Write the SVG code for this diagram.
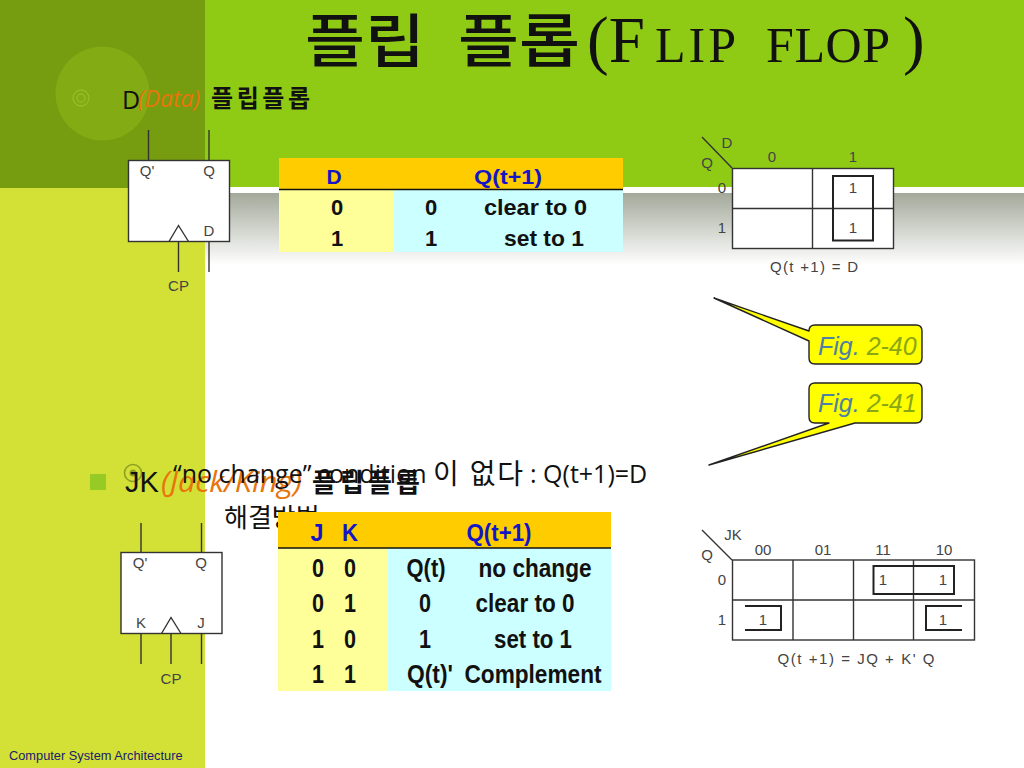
<svg xmlns="http://www.w3.org/2000/svg" width="1024" height="768" viewBox="0 0 1024 768">
<style>
.sans{font-family:"Liberation Sans","Noto Sans CJK KR",sans-serif}
.body{font-family:"Open Sans","Noto Sans CJK KR",sans-serif;font-size:25px;fill:#111}
.dia{font-family:"Liberation Sans",sans-serif;font-size:15px;fill:#444;text-anchor:middle}
.hd{font-family:"Liberation Sans",sans-serif;font-size:21px;font-weight:bold;fill:#1414c8;text-anchor:middle}
.cell{font-family:"Liberation Sans",sans-serif;font-size:22px;font-weight:bold;fill:#111;text-anchor:middle}
.cellj{font-family:"Liberation Sans",sans-serif;font-size:25px;font-weight:bold;fill:#111;text-anchor:middle}
.ln{stroke:#333;stroke-width:1.4;fill:none}
.box{fill:#fff;stroke:#333;stroke-width:1.4}
.grp{stroke:#222;stroke-width:2;fill:none}
.call{fill:#ffff00;stroke:#222;stroke-width:1.4;stroke-linejoin:round}
.fig{font-family:"Liberation Sans",sans-serif;font-size:25px;font-style:italic}
</style>
<defs>
<linearGradient id="fade" x1="0" y1="0" x2="0" y2="1"><stop offset="0" stop-color="#a3a99a"/><stop offset="1" stop-color="#fff"/></linearGradient>
</defs>
<g id="background">
<rect width="1024" height="768" fill="#fff"/>
<rect x="205" y="0" width="819" height="187" fill="#8fcb14"/>
<rect x="205" y="193" width="819" height="72" fill="url(#fade)"/>
<rect x="0" y="188" width="205" height="580" fill="#d3e035"/>
<rect x="0" y="0" width="205" height="188" fill="#769c10"/>
<circle cx="102.500" cy="93.500" r="47" fill="#82ab14"/>
</g>
<g id="title"><text y="62" font-family="'Liberation Serif','Noto Sans CJK KR',serif" font-size="65" fill="#111"><tspan x="305" font-family="'Noto Sans CJK KR',sans-serif" font-size="58" font-weight="500" textLength="120" lengthAdjust="spacingAndGlyphs">플립</tspan><tspan x="458" font-family="'Noto Sans CJK KR',sans-serif" font-size="58" font-weight="500" textLength="122" lengthAdjust="spacingAndGlyphs">플롭</tspan><tspan x="587">(F</tspan><tspan x="655" font-size="50" textLength="81" lengthAdjust="spacing">LIP</tspan><tspan x="766" font-size="50" textLength="124" lengthAdjust="spacing">FLOP</tspan><tspan x="903">)</tspan></text></g>
<g id="bullets">
<g fill="none" stroke="#96bd2a" stroke-width="1.3"><circle cx="81" cy="98" r="8"/><circle cx="81" cy="98" r="4"/></g>
<circle cx="133" cy="473" r="8.500" fill="none" stroke="#8e9f22" stroke-width="1.6"/><circle cx="133" cy="473" r="3.500" fill="#8e9f22"/>
<rect x="90" y="474" width="16" height="16" fill="#97ca24"/>
</g>
<g id="text-lines">
<text x="122" y="109" class="body">D</text>
<text x="138" y="107" font-family="'Open Sans',sans-serif" font-size="23" font-style="italic" fill="#e8740c">(Data)</text>
<text x="211" y="107" font-family="'Noto Sans CJK KR',sans-serif" font-size="24" font-weight="bold" fill="#111" textLength="99">플립플롭</text>
<text x="125" y="492" font-family="'Liberation Sans',sans-serif" font-size="29" fill="#111">JK</text>
<text x="161" y="492" font-family="'Open Sans',sans-serif" font-size="29" font-style="italic" fill="#e8740c" textLength="141" lengthAdjust="spacingAndGlyphs">(Jack/King)</text>
<text x="312" y="492" font-family="'Noto Sans CJK KR',sans-serif" font-size="26" font-weight="bold" fill="#111" textLength="108">플립플롭</text>
<text x="173" y="483" class="body">“no change”</text>
<text x="317" y="483" class="body">condition</text>
<text x="433" y="484" class="body" style="font-size:28px" textLength="90">이 없다</text>
<text x="530" y="483" class="body">: Q(t+1)=D</text>
<text x="224" y="527" class="body" style="font-size:26px">해결방법</text>
</g>
<g id="ff-d">
<rect class="box" x="128.500" y="160.500" width="101" height="81"/>
<path class="ln" d="M148.500 130V160M209 130V160M178.500 242V272M209 242V272M169 241.500L178.500 225.500L188.500 241.500"/>
<text class="dia" x="147" y="176">Q'</text><text class="dia" x="209" y="176">Q</text><text class="dia" x="209" y="236">D</text><text class="dia" x="178.500" y="291">CP</text>
</g>
<g id="ff-jk">
<rect class="box" x="121" y="552.500" width="101" height="81"/>
<path class="ln" d="M141 523V552M201.500 523V552M141 634V664M171 634V664M201.500 634V664M161.500 633.500L171 617.500L181 633.500"/>
<text class="dia" x="140" y="568">Q'</text><text class="dia" x="201" y="568">Q</text><text class="dia" x="141" y="628">K</text><text class="dia" x="201" y="628">J</text><text class="dia" x="171" y="684">CP</text>
</g>
<g id="table-d">
<rect x="279" y="158" width="344" height="31" fill="#ffcc00"/>
<rect x="279" y="189" width="115" height="63" fill="#ffff99"/>
<rect x="394" y="189" width="229" height="63" fill="#ccffff"/>
<path d="M279 189.500H623" stroke="#111" stroke-width="1.500"/>
<text class="hd" x="334" y="184">D</text><text class="hd" x="508" y="184" textLength="68" lengthAdjust="spacingAndGlyphs">Q(t+1)</text>
<text class="cell" x="337" y="215">0</text><text class="cell" x="431" y="215">0</text><text class="cell" x="535.500" y="215" textLength="103" lengthAdjust="spacingAndGlyphs">clear to 0</text>
<text class="cell" x="337" y="246">1</text><text class="cell" x="431" y="246">1</text><text class="cell" x="544" y="246" textLength="80" lengthAdjust="spacingAndGlyphs">set to 1</text>
</g>
<g id="table-jk">
<rect x="278" y="512" width="333" height="36" fill="#ffcc00"/>
<rect x="278" y="548" width="110" height="143" fill="#ffff99"/>
<rect x="388" y="548" width="223" height="143" fill="#ccffff"/>
<path d="M278 548H611" stroke="#111" stroke-width="1.500"/>
<text class="hd" x="317" y="541" style="font-size:24px" textLength="13" lengthAdjust="spacingAndGlyphs">J</text><text class="hd" x="350" y="541" style="font-size:24px" textLength="16" lengthAdjust="spacingAndGlyphs">K</text><text class="hd" x="499" y="541" style="font-size:24px" textLength="65" lengthAdjust="spacingAndGlyphs">Q(t+1)</text>
<text class="cellj" x="318" y="577" textLength="12" lengthAdjust="spacingAndGlyphs">0</text><text class="cellj" x="350" y="577" textLength="12" lengthAdjust="spacingAndGlyphs">0</text><text class="cellj" x="426" y="577" textLength="39" lengthAdjust="spacingAndGlyphs">Q(t)</text><text class="cellj" x="535" y="577" textLength="113" lengthAdjust="spacingAndGlyphs">no change</text>
<text class="cellj" x="318" y="612" textLength="12" lengthAdjust="spacingAndGlyphs">0</text><text class="cellj" x="350" y="612" textLength="12" lengthAdjust="spacingAndGlyphs">1</text><text class="cellj" x="425" y="612" textLength="12" lengthAdjust="spacingAndGlyphs">0</text><text class="cellj" x="525" y="612" textLength="99" lengthAdjust="spacingAndGlyphs">clear to 0</text>
<text class="cellj" x="318" y="648" textLength="12" lengthAdjust="spacingAndGlyphs">1</text><text class="cellj" x="350" y="648" textLength="12" lengthAdjust="spacingAndGlyphs">0</text><text class="cellj" x="425" y="648" textLength="12" lengthAdjust="spacingAndGlyphs">1</text><text class="cellj" x="533" y="648" textLength="78" lengthAdjust="spacingAndGlyphs">set to 1</text>
<text class="cellj" x="318" y="683" textLength="12" lengthAdjust="spacingAndGlyphs">1</text><text class="cellj" x="350" y="683" textLength="12" lengthAdjust="spacingAndGlyphs">1</text><text class="cellj" x="430" y="683" textLength="46" lengthAdjust="spacingAndGlyphs">Q(t)'</text><text class="cellj" x="533" y="683" textLength="137" lengthAdjust="spacingAndGlyphs">Complement</text>
</g>
<g id="kmap-d">
<rect class="box" x="732.500" y="168.500" width="161" height="80"/>
<path class="ln" d="M812.500 168V248M732 208.500H893M702 137L732 168"/>
<rect class="grp" x="833" y="176" width="40" height="64.500"/>
<text class="dia" x="727" y="148">D</text><text class="dia" x="707" y="168">Q</text><text class="dia" x="772" y="162">0</text><text class="dia" x="853" y="162">1</text>
<text class="dia" x="722" y="193">0</text><text class="dia" x="722" y="233">1</text><text class="dia" x="853" y="193">1</text><text class="dia" x="853" y="233">1</text>
<text class="dia" x="814" y="272" textLength="88" lengthAdjust="spacing">Q(t +1)  = D</text>
</g>
<g id="kmap-jk">
<rect class="box" x="732.500" y="560" width="242" height="80"/>
<path class="ln" d="M793 560V640M853.500 560V640M913.500 560V640M732 600H975M702 530L732 560"/>
<path class="grp" d="M873.500 566H954V594H873.500ZM745 606H781V630H745M962 606H926V630H962"/>
<text class="dia" x="733" y="540">JK</text><text class="dia" x="707" y="560">Q</text>
<text class="dia" x="763" y="555">00</text><text class="dia" x="823" y="555">01</text><text class="dia" x="883" y="555">11</text><text class="dia" x="944" y="555">10</text>
<text class="dia" x="722" y="585">0</text><text class="dia" x="722" y="625">1</text>
<text class="dia" x="883" y="585">1</text><text class="dia" x="943" y="585">1</text><text class="dia" x="763" y="625">1</text><text class="dia" x="943" y="625">1</text>
<text class="dia" x="856" y="664" textLength="157" lengthAdjust="spacing">Q(t +1)  = JQ  + K' Q</text>
</g>
<g id="callout-240">
<path class="call" d="M714 298L809 331V331Q809 325 815 325H916Q922 325 922 331V358Q922 364 916 364H815Q809 364 809 358V341Z"/>
<text class="fig" x="818" y="355"><tspan fill="#4f81a0">Fig.</tspan><tspan fill="#8aa815"> 2-40</tspan></text>
</g>
<g id="callout-241">
<path class="call" d="M709 465L829 423H815Q809 423 809 417V389Q809 383 815 383H916Q922 383 922 389V417Q922 423 916 423H855Z"/>
<text class="fig" x="818" y="412"><tspan fill="#4f81a0">Fig.</tspan><tspan fill="#8aa815"> 2-41</tspan></text>
</g>
<g id="footer"><text x="9" y="760" class="sans" font-size="12.800" fill="#1a1a6e">Computer System Architecture</text></g>
</svg>
